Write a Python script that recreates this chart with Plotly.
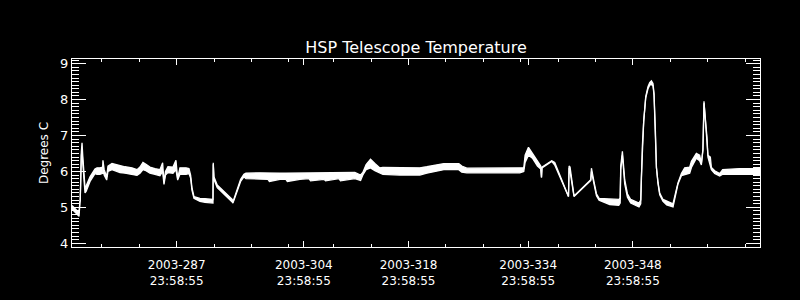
import plotly.graph_objects as go

# Day of year 2003 (fractional), upper and lower envelope of the temperature band (deg C)
day = [274.00, 274.30, 274.60, 274.94, 275.05, 275.10, 275.25, 275.34, 275.45, 275.60,
       275.74, 275.90, 276.41, 277.07, 277.34, 277.74, 278.10, 278.14, 278.30, 278.64,
       278.81, 279.35, 279.75, 280.42, 281.08, 282.02, 282.69, 283.09, 283.49, 283.89,
       284.42, 285.09, 285.76, 286.12, 286.30, 286.50, 286.83, 287.50, 287.90, 288.13,
       288.43, 289.24, 289.64, 289.86, 290.04, 290.31, 291.11, 291.78, 292.71, 292.85,
       292.89, 292.98, 293.42, 294.32, 294.85, 295.42, 295.52, 296.09, 296.55, 296.99,
       297.26, 299.13, 300.20, 300.40, 301.80, 302.60, 302.80, 304.47, 305.70, 305.90,
       307.70, 307.90, 309.70, 309.90, 311.82, 312.59, 312.89, 313.33, 313.92, 314.50,
       315.13, 315.57, 317.84, 319.71, 320.51, 321.45, 322.12, 323.72, 325.72, 326.12,
       326.79, 328.53, 331.20, 333.88, 334.41, 334.59, 334.81, 335.04, 335.57, 336.24,
       336.68, 336.78, 336.85, 338.15, 338.55, 340.39, 340.47, 340.60, 341.13, 343.37,
       343.46, 343.81, 344.13, 344.48, 345.91, 347.11, 347.30, 347.38, 347.60, 347.91,
       348.27, 348.71, 349.82, 350.05, 350.14, 350.27, 350.45, 350.72, 351.02, 351.25,
       351.48, 351.69, 351.83, 352.01, 352.15, 352.36, 352.59, 353.03, 353.52, 354.37,
       354.73, 355.03, 355.49, 355.93, 356.60, 356.83, 357.49, 357.93, 358.16, 358.37,
       358.51, 358.74, 358.91, 359.04, 359.36, 359.50, 359.94, 360.61, 361.01, 363.28,
       366.00]

temp_hi = [5.05, 4.98, 4.90, 4.85, 5.15, 5.20, 6.55, 6.80, 6.40, 5.80,
           5.55, 5.60, 5.85, 6.07, 6.10, 6.10, 6.12, 6.31, 6.05, 5.85,
           6.15, 6.22, 6.20, 6.15, 6.13, 6.10, 6.05, 6.12, 6.25, 6.20,
           6.12, 6.08, 6.05, 6.24, 5.70, 6.00, 6.13, 6.12, 6.31, 5.80,
           6.10, 6.10, 6.08, 5.90, 5.55, 5.30, 5.25, 5.24, 5.22, 5.22,
           6.24, 5.85, 5.62, 5.45, 5.35, 5.22, 5.15, 5.50, 5.78, 5.92,
           5.95, 5.96, 5.95, 5.95, 5.95, 5.95, 5.95, 5.95, 5.97, 5.97,
           5.97, 5.97, 5.97, 5.97, 5.97, 5.90, 5.97, 6.19, 6.34, 6.22,
           6.10, 6.11, 6.11, 6.10, 6.10, 6.13, 6.16, 6.22, 6.22, 6.15,
           6.09, 6.09, 6.09, 6.08, 6.10, 6.45, 6.59, 6.67, 6.50, 6.28,
           6.15, 5.83, 6.12, 6.30, 6.25, 5.30, 6.15, 6.12, 5.32, 5.77,
           6.09, 5.70, 5.38, 5.25, 5.23, 5.22, 5.25, 6.15, 6.56, 5.77,
           5.38, 5.22, 5.12, 5.20, 5.85, 6.71, 7.40, 8.08, 8.36, 8.47,
           8.52, 8.45, 8.17, 7.14, 6.11, 5.70, 5.40, 5.22, 5.17, 5.10,
           5.42, 5.68, 5.94, 6.10, 6.12, 6.28, 6.50, 6.45, 6.22, 6.62,
           7.95, 7.40, 6.97, 6.45, 6.40, 6.11, 6.02, 5.94, 6.05, 6.08,
           6.08]

temp_lo = [4.95, 4.88, 4.80, 4.75, 5.10, 5.20, 6.45, 6.60, 6.20, 5.60,
           5.40, 5.45, 5.72, 5.94, 5.92, 5.92, 5.95, 6.10, 5.90, 5.76,
           6.00, 6.05, 6.02, 5.97, 5.95, 5.92, 5.89, 5.95, 6.05, 6.02,
           5.95, 5.92, 5.88, 6.00, 5.64, 5.90, 5.97, 5.95, 6.05, 5.76,
           5.92, 5.92, 5.94, 5.82, 5.48, 5.25, 5.17, 5.14, 5.12, 5.12,
           6.20, 5.78, 5.55, 5.38, 5.27, 5.15, 5.12, 5.45, 5.72, 5.85,
           5.80, 5.79, 5.78, 5.72, 5.78, 5.78, 5.72, 5.78, 5.80, 5.74,
           5.78, 5.74, 5.80, 5.74, 5.80, 5.75, 5.90, 6.05, 6.10, 6.02,
           5.95, 5.92, 5.90, 5.90, 5.90, 5.95, 5.98, 6.05, 6.05, 5.98,
           5.96, 5.96, 5.96, 5.96, 6.00, 6.25, 6.35, 6.45, 6.37, 6.15,
           6.07, 5.83, 6.10, 6.28, 6.18, 5.30, 6.10, 6.00, 5.30, 5.75,
           6.00, 5.65, 5.32, 5.20, 5.08, 5.06, 5.12, 6.05, 6.45, 5.65,
           5.28, 5.12, 5.01, 5.10, 5.85, 6.71, 7.40, 8.05, 8.30, 8.40,
           8.42, 8.38, 8.12, 7.14, 6.11, 5.66, 5.35, 5.17, 5.07, 5.01,
           5.40, 5.65, 5.88, 5.90, 5.95, 6.11, 6.37, 6.30, 6.18, 6.60,
           7.90, 7.35, 6.95, 6.40, 6.20, 6.05, 5.94, 5.87, 5.92, 5.92,
           5.92]

major_days = [287.99925, 304.99925, 318.99925, 334.99925, 348.99925]
major_labels = ["2003-287<br>23:58:55", "2003-304<br>23:58:55", "2003-318<br>23:58:55",
                "2003-334<br>23:58:55", "2003-348<br>23:58:55"]
minor_days = [278, 283, 288, 293, 298, 303, 309, 314, 319, 324, 329, 334,
              339, 344, 349, 354, 359, 364]
y_ticks = [4, 5, 6, 7, 8, 9]

FONT = "DejaVu Sans"

fig = go.Figure()
fig.add_trace(go.Scatter(x=day, y=temp_lo, mode="lines",
                         line=dict(color="white", width=1.3), hoverinfo="skip"))
fig.add_trace(go.Scatter(x=day, y=temp_hi, mode="lines", fill="tonexty",
                         fillcolor="white",
                         line=dict(color="white", width=1.3), hoverinfo="skip"))

fig.update_layout(
    width=800, height=300,
    margin=dict(l=72, r=40, t=59, b=37),
    paper_bgcolor="black", plot_bgcolor="black",
    showlegend=False,
    font=dict(family=FONT, color="white", size=12),
    title=dict(text="HSP Telescope Temperature", x=0.52, xanchor="center",
               y=0.843, yanchor="middle", yref="container",
               font=dict(family=FONT, size=16, color="white")),
)

fig.update_xaxes(
    range=[274, 366], showgrid=False, zeroline=False,
    showline=True, linecolor="white", linewidth=1, mirror="ticks",
    ticks="inside", ticklen=6, tickcolor="white", tickwidth=1,
    tickmode="array", tickvals=major_days, ticktext=major_labels,
    tickfont=dict(family=FONT, size=12, color="white"),
    ticklabelstandoff=7,
    minor=dict(tickmode="array", tickvals=minor_days, ticks="inside",
               ticklen=3, tickcolor="white", tickwidth=1, showgrid=False),
)
fig.update_yaxes(
    range=[3.897, 9.129], showgrid=False, zeroline=False,
    showline=True, linecolor="white", linewidth=1, mirror="ticks",
    ticks="inside", ticklen=14, tickcolor="white", tickwidth=1,
    tickmode="array", tickvals=y_ticks,
    tickfont=dict(family=FONT, size=13, color="white"),
    minor=dict(dtick=0.1, tick0=4, ticks="inside", ticklen=7,
               tickcolor="white", tickwidth=1, showgrid=False),
    title=dict(text="Degrees C", standoff=8,
               font=dict(family=FONT, size=12, color="white")),
)

fig.write_html("out.html")
